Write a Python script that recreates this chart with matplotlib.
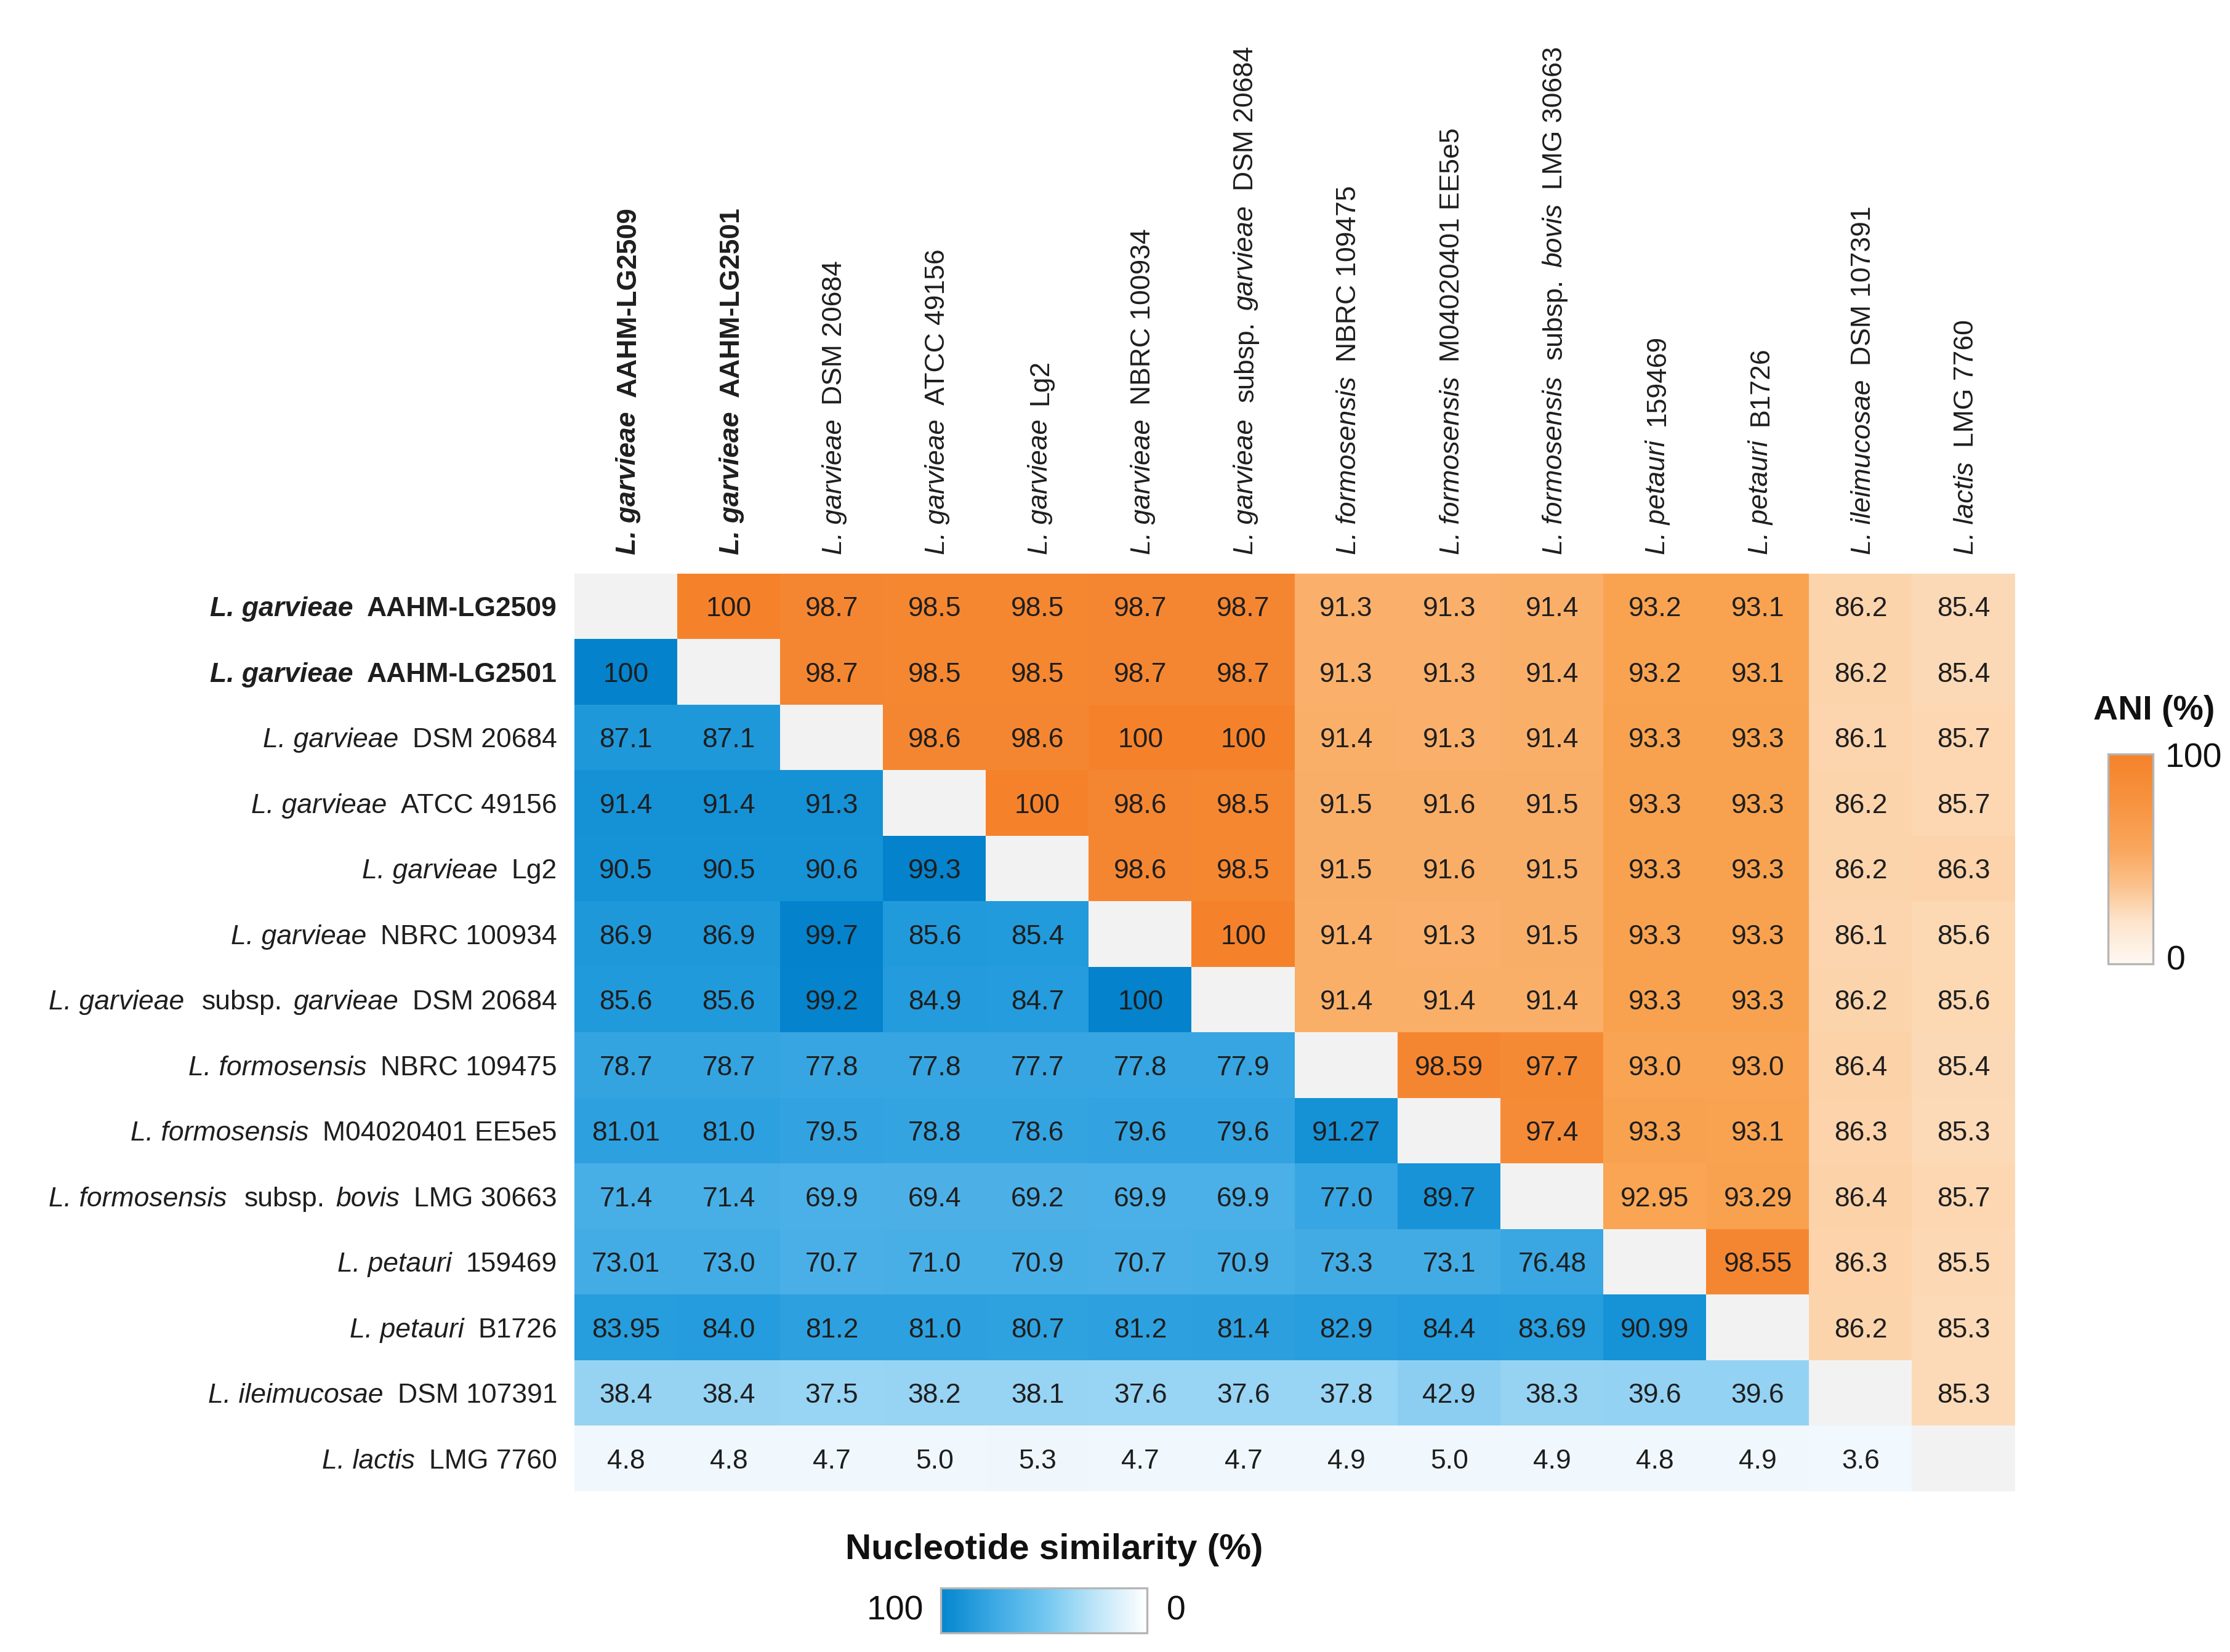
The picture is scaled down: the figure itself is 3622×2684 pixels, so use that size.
import numpy as np
import matplotlib
matplotlib.use("Agg")
import matplotlib.pyplot as plt
from matplotlib.colors import LinearSegmentedColormap, Normalize, ListedColormap
from matplotlib.cm import ScalarMappable
from matplotlib import transforms

# ---------------- data ----------------
# strain labels: list of (text, italic) parts
strain_labels = [
    [("L. garvieae", True), ("AAHM-LG2509", False)],
    [("L. garvieae", True), ("AAHM-LG2501", False)],
    [("L. garvieae", True), ("DSM 20684", False)],
    [("L. garvieae", True), ("ATCC 49156", False)],
    [("L. garvieae", True), ("Lg2", False)],
    [("L. garvieae", True), ("NBRC 100934", False)],
    [("L. garvieae", True), ("subsp.", False), ("garvieae", True), ("DSM 20684", False)],
    [("L. formosensis", True), ("NBRC 109475", False)],
    [("L. formosensis", True), ("M04020401 EE5e5", False)],
    [("L. formosensis", True), ("subsp.", False), ("bovis", True), ("LMG 30663", False)],
    [("L. petauri", True), ("159469", False)],
    [("L. petauri", True), ("B1726", False)],
    [("L. ileimucosae", True), ("DSM 107391", False)],
    [("L. lactis", True), ("LMG 7760", False)],
]
bold_strains = [0, 1]

# upper triangle: ANI (%), lower triangle: nucleotide similarity (%)
pair_values = [
    [None, 100, 98.7, 98.5, 98.5, 98.7, 98.7, 91.3, 91.3, 91.4, 93.2, 93.1, 86.2, 85.4],
    [100, None, 98.7, 98.5, 98.5, 98.7, 98.7, 91.3, 91.3, 91.4, 93.2, 93.1, 86.2, 85.4],
    [87.1, 87.1, None, 98.6, 98.6, 100, 100, 91.4, 91.3, 91.4, 93.3, 93.3, 86.1, 85.7],
    [91.4, 91.4, 91.3, None, 100, 98.6, 98.5, 91.5, 91.6, 91.5, 93.3, 93.3, 86.2, 85.7],
    [90.5, 90.5, 90.6, 99.3, None, 98.6, 98.5, 91.5, 91.6, 91.5, 93.3, 93.3, 86.2, 86.3],
    [86.9, 86.9, 99.7, 85.6, 85.4, None, 100, 91.4, 91.3, 91.5, 93.3, 93.3, 86.1, 85.6],
    [85.6, 85.6, 99.2, 84.9, 84.7, 100, None, 91.4, 91.4, 91.4, 93.3, 93.3, 86.2, 85.6],
    [78.7, 78.7, 77.8, 77.8, 77.7, 77.8, 77.9, None, 98.59, 97.7, 93.0, 93.0, 86.4, 85.4],
    [81.01, 81.0, 79.5, 78.8, 78.6, 79.6, 79.6, 91.27, None, 97.4, 93.3, 93.1, 86.3, 85.3],
    [71.4, 71.4, 69.9, 69.4, 69.2, 69.9, 69.9, 77.0, 89.7, None, 92.95, 93.29, 86.4, 85.7],
    [73.01, 73.0, 70.7, 71.0, 70.9, 70.7, 70.9, 73.3, 73.1, 76.48, None, 98.55, 86.3, 85.5],
    [83.95, 84.0, 81.2, 81.0, 80.7, 81.2, 81.4, 82.9, 84.4, 83.69, 90.99, None, 86.2, 85.3],
    [38.4, 38.4, 37.5, 38.2, 38.1, 37.6, 37.6, 37.8, 42.9, 38.3, 39.6, 39.6, None, 85.3],
    [4.8, 4.8, 4.7, 5.0, 5.3, 4.7, 4.7, 4.9, 5.0, 4.9, 4.8, 4.9, 3.6, None],
]

ani_title = "ANI (%)"
nuc_title = "Nucleotide similarity (%)"
ani_range_labels = ["100", "0"]
nuc_range_labels = ["100", "0"]

# ---------------- styling ----------------
W, H, DPI = 3622, 2684, 200
FONT = ["Liberation Sans", "DejaVu Sans"]
FS = 16
TXT = "#1e1e1e"
plt.rcParams["font.family"] = FONT

ani_cmap = LinearSegmentedColormap.from_list(
    "ani_cells",
    [(0.0, "#FDDCBB"), (0.1, "#FCD2A8"), (0.43, "#FAAF69"),
     (0.55, "#F9A350"), (0.83, "#F68B37"), (1.0, "#F5822B")])
ani_norm = Normalize(85.0, 100.0)

nuc_cmap = LinearSegmentedColormap.from_list(
    "nuc_cells",
    [(0.0, "#F6FBFF"), (0.05, "#F0F8FE"), (0.38, "#98D4F4"), (0.70, "#4BB0E7"),
     (0.85, "#249CDD"), (0.91, "#1692D7"), (1.0, "#0482CC")])
nuc_norm = Normalize(0.0, 100.0)

ani_bar_cmap = LinearSegmentedColormap.from_list(
    "ani_bar",
    [(0.0, "#FEF8F2"), (0.2, "#FDE4CC"), (0.38, "#FBC08A"), (0.55, "#F9A65C"),
     (0.78, "#F7923F"), (1.0, "#F5822A")])
nuc_bar_cmap = LinearSegmentedColormap.from_list(
    "nuc_bar",
    [(0.0, "#FFFFFF"), (0.25, "#BDE5F8"), (0.5, "#70C6F0"), (0.75, "#3AA8E3"),
     (1.0, "#0386CF")])

# ---------------- figure ----------------
fig = plt.figure(figsize=(W / DPI, H / DPI), dpi=DPI)
x0, x1, y0, y1 = 933, 3273, 932, 2423  # heatmap pixel box (image coords)
ax = fig.add_axes([x0 / W, 1 - y1 / H, (x1 - x0) / W, (y1 - y0) / H])

n = len(pair_values)
vals = np.array([[np.nan if v is None else v for v in row] for row in pair_values], dtype=float)
ii, jj = np.indices((n, n))
upper = jj > ii
lower = jj < ii
diag = ii == jj
ext = (-0.5, n - 0.5, n - 0.5, -0.5)

ax.imshow(np.ma.masked_where(~upper, vals), cmap=ani_cmap, norm=ani_norm,
          extent=ext, aspect="auto", interpolation="nearest")
ax.imshow(np.ma.masked_where(~lower, vals), cmap=nuc_cmap, norm=nuc_norm,
          extent=ext, aspect="auto", interpolation="nearest")
ax.imshow(np.ma.masked_where(~diag, np.ones((n, n))), cmap=ListedColormap(["#F2F2F2"]),
          extent=ext, aspect="auto", interpolation="nearest")
ax.set_xlim(-0.5, n - 0.5)
ax.set_ylim(n - 0.5, -0.5)
ax.axis("off")


def fmt(v):
    if v == 100:
        return "100"
    if round(v, 1) != round(v, 2):
        return f"{v:.2f}"
    return f"{v:.1f}"


cap_px = FS / 72 * DPI * 0.716
cell_tr = transforms.offset_copy(ax.transData, fig=fig, x=0, y=-cap_px / 2 * 72 / DPI, units="points")
for i in range(n):
    for j in range(n):
        v = pair_values[i][j]
        if v is None:
            continue
        ax.text(j, i, fmt(v), ha="center", va="baseline", fontsize=FS, color=TXT,
                transform=cell_tr)

# ---------------- labels ----------------
fig.canvas.draw()
renderer = fig.canvas.get_renderer()
cell_w = (x1 - x0) / n
cell_h = (y1 - y0) / n


def gap_between(a, b):
    if b == "subsp.":
        return 28
    if a == "subsp.":
        return 18
    return 23


for r, parts in enumerate(strain_labels):
    weight = "bold" if r in bold_strains else "normal"
    # row label, right aligned
    yc = H - (y0 + (r + 0.5) * cell_h)
    base = yc - cap_px / 2
    xr = 905
    prev = None
    for text, ital in reversed(parts):
        if prev is not None:
            xr -= gap_between(text, prev)
        t = fig.text(xr / W, base / H, text, ha="right", va="baseline", fontsize=FS,
                     fontstyle="italic" if ital else "normal", fontweight=weight, color=TXT)
        bb = t.get_window_extent(renderer)
        xr = bb.x0
        prev = text
    # column label, rotated
    xc = x0 + (r + 0.5) * cell_w + cap_px / 2
    yb = H - 901
    prev = None
    for text, ital in parts:
        if prev is not None:
            yb += gap_between(prev, text)
        t = fig.text(xc / W, yb / H, text, ha="left", va="baseline", rotation=90,
                     rotation_mode="anchor", fontsize=FS,
                     fontstyle="italic" if ital else "normal", fontweight=weight, color=TXT)
        bb = t.get_window_extent(renderer)
        yb = bb.y1
        prev = text

# ---------------- ANI colour bar ----------------
cax1 = fig.add_axes([3424 / W, 1 - 1566 / H, 73 / W, 341 / H])
cb1 = fig.colorbar(ScalarMappable(norm=Normalize(0, 100), cmap=ani_bar_cmap), cax=cax1)
cb1.set_ticks([])
cb1.outline.set_edgecolor("#B5B5B5")
cb1.outline.set_linewidth(1.2)
fig.text(3499 / W, 1 - 1155 / H, ani_title, ha="center", va="center", fontsize=20,
         fontweight="bold", color="#111111")
fig.text(3517 / W, 1 - 1232 / H, ani_range_labels[0], ha="left", va="center", fontsize=20, color="#111111")
fig.text(3519 / W, 1 - 1562 / H, ani_range_labels[1], ha="left", va="center", fontsize=20, color="#111111")

# ---------------- nucleotide similarity colour bar ----------------
cax2 = fig.add_axes([1528 / W, 1 - 2653 / H, 335 / W, 73 / H])
cb2 = fig.colorbar(ScalarMappable(norm=Normalize(0, 100), cmap=nuc_bar_cmap), cax=cax2,
                   orientation="horizontal")
cax2.invert_xaxis()
cb2.set_ticks([])
cb2.outline.set_edgecolor("#B5B5B5")
cb2.outline.set_linewidth(1.2)
fig.text(1712 / W, 1 - 2518 / H, nuc_title, ha="center", va="center", fontsize=21,
         fontweight="bold", color="#111111")
fig.text(1500 / W, 1 - 2617 / H, nuc_range_labels[0], ha="right", va="center", fontsize=20, color="#111111")
fig.text(1895 / W, 1 - 2617 / H, nuc_range_labels[1], ha="left", va="center", fontsize=20, color="#111111")

fig.savefig("out.png", dpi=DPI, facecolor="white")
